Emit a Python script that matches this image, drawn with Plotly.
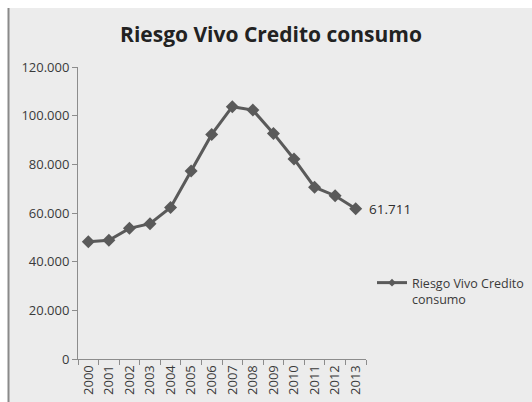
import plotly.graph_objects as go

years = [str(y) for y in range(2000, 2014)]
values = [48200, 48800, 53700, 55600, 62300, 77300, 92300, 103700, 102300, 92700, 82200, 70600, 67100, 61711]
last_label = "61.711"
series_name = "Riesgo Vivo Credito consumo"
title_text = "Riesgo Vivo Credito consumo"
y_tickvals = [0, 20000, 40000, 60000, 80000, 100000, 120000]
y_ticktext = ["0", "20.000", "40.000", "60.000", "80.000", "100.000", "120.000"]

W, H = 532, 402
L, R, T, B = 78, 366, 67, 359  # plot area in px
pw, ph = R - L, B - T

def fx(px):
    return (px - L) / pw

def fy(py):
    return (B - py) / ph

LINE = "#5a5a5a"
TXT = "#3a3a3a"
FONT = "Open Sans"

fig = go.Figure()
fig.add_trace(go.Scatter(
    x=years, y=values, mode="lines+markers",
    line=dict(color=LINE, width=3),
    marker=dict(symbol="diamond", size=10, color=LINE),
    showlegend=False, cliponaxis=False,
))
fig.add_trace(go.Scatter(
    x=[None], y=[None], mode="lines+markers",
    name="Riesgo Vivo Credito<br>consumo",
    line=dict(color=LINE, width=3),
    marker=dict(symbol="diamond", size=6, color=LINE),
    showlegend=True,
))
fig.add_annotation(
    x=len(years) - 1, y=values[-1], xref="x", yref="y", text=last_label, showarrow=False,
    xanchor="left", yanchor="middle", xshift=11,
    font=dict(family=FONT, size=13.5, color="#2e2e2e"),
)

fig.update_layout(
    width=W, height=H,
    margin=dict(l=L, r=W - R, t=T, b=H - B, autoexpand=False),
    paper_bgcolor="white",
    plot_bgcolor="rgba(0,0,0,0)",
    font=dict(family=FONT, size=12, color=TXT),
    title=dict(text="<b>" + title_text + "</b>", x=fx(271), xref="paper", xanchor="center",
               y=1 - 35 / H, yanchor="middle",
               font=dict(family=FONT, size=21, color="#222222")),
    showlegend=True,
    legend=dict(x=fx(372), xanchor="left", y=fy(268), yanchor="top", valign="top",
                bgcolor="rgba(0,0,0,0)", font=dict(family=FONT, size=12.5, color=TXT),
                itemwidth=30, tracegroupgap=0),
    shapes=[
        dict(type="rect", xref="paper", yref="paper", x0=fx(8), x1=fx(W + 5), y0=fy(H + 5), y1=fy(8),
             fillcolor="#ececec", line=dict(width=0), layer="below"),
        dict(type="line", xref="paper", yref="paper", x0=fx(8.5), x1=fx(8.5), y0=fy(H + 5), y1=fy(8),
             line=dict(color="#8a8a8a", width=2), layer="below"),
    ],
)
fig.update_xaxes(
    type="category", range=[-0.5, 13.5], tickson="boundaries",
    showline=True, linecolor="#8c8c8c", linewidth=1,
    ticks="outside", ticklen=5, tickcolor="#8c8c8c",
    showgrid=False, zeroline=False, tickangle=-90,
    tickfont=dict(family=FONT, size=13, color=TXT), automargin=False,
)
fig.update_yaxes(
    range=[0, 120000], tickvals=y_tickvals, ticktext=y_ticktext,
    showline=True, linecolor="#8c8c8c", linewidth=1,
    ticks="outside", ticklen=5, tickcolor="#8c8c8c",
    showgrid=False, zeroline=False,
    tickfont=dict(family=FONT, size=13, color=TXT), automargin=False,
)

fig.write_html("out.html")
